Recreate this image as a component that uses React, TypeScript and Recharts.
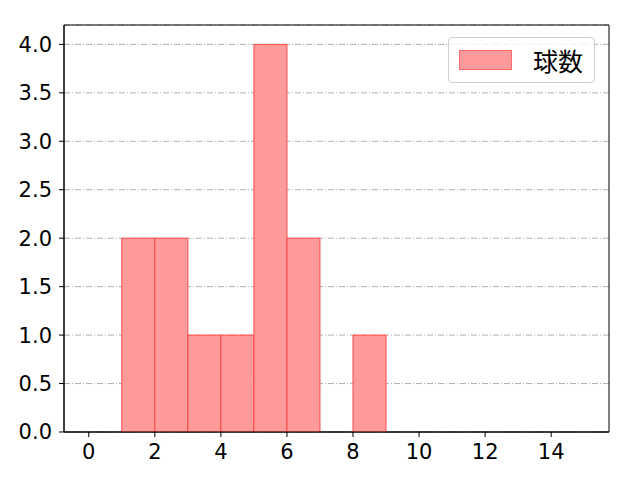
import React from 'react';
import { ComposedChart, Bar, XAxis, YAxis, CartesianGrid, Legend, ReferenceArea } from 'recharts';

const binCenters = [0.5, 1.5, 2.5, 3.5, 4.5, 5.5, 6.5, 7.5, 8.5, 9.5, 10.5, 11.5, 12.5, 13.5, 14.5];
const counts = [0, 2, 2, 1, 1, 4, 2, 0, 1, 0, 0, 0, 0, 0, 0];
const xTicks = [0, 2, 4, 6, 8, 10, 12, 14];
const yTicks = [0, 0.5, 1, 1.5, 2, 2.5, 3, 3.5, 4];
const xDomain: [number, number] = [-0.75, 15.75];
const yDomain: [number, number] = [0, 4.2];
const seriesName = '球数';

const data = binCenters.map((x, i) => ({ x, count: counts[i] }));

const TICK_FONT = '"DejaVu Sans", sans-serif';
const CJK_FONT = '"Noto Sans CJK JP", "DejaVu Sans", sans-serif';

const renderLegend = () => (
  <div
    style={{
      position: 'absolute',
      left: 448,
      top: 37,
      width: 147,
      height: 46,
      boxSizing: 'border-box',
      border: '1px solid #d0d0d0',
      borderRadius: 4,
      background: 'rgba(255,255,255,0.8)',
      display: 'flex',
      alignItems: 'center',
      fontFamily: CJK_FONT,
      fontSize: 25,
      color: '#000',
    }}
  >
    <span
      style={{
        display: 'inline-block',
        marginLeft: 10,
        width: 53,
        height: 20,
        background: '#ff9a9a',
        border: '1px solid #ff6a6a',
        boxSizing: 'border-box',
      }}
    />
    <span style={{ marginLeft: 21, lineHeight: '25px' }}>{seriesName}</span>
  </div>
);

export default function App() {
  return (
    <div style={{ position: 'absolute', left: 0, top: 0, width: 640, height: 480, background: '#fff' }}>
      <ComposedChart
        width={640}
        height={480}
        data={data}
        margin={{ top: 25, right: 31, bottom: 0, left: 0 }}
        barCategoryGap={0}
        barGap={0}
      >
        <CartesianGrid
          horizontal
          vertical={false}
          stroke="#b0b0b0"
          strokeDasharray="6 2 1 2"
          strokeWidth={1}
        />
        <XAxis
          dataKey="x"
          type="number"
          domain={xDomain}
          ticks={xTicks}
          allowDataOverflow
          height={48}
          stroke="#000"
          tickLine={{ stroke: '#000' }}
          tickSize={5}
          tick={{ fill: '#000', fontSize: 21, fontFamily: TICK_FONT }}
          tickMargin={7}
        />
        <YAxis
          type="number"
          domain={yDomain}
          ticks={yTicks}
          allowDataOverflow
          width={64}
          stroke="#000"
          tickSize={5}
          tickLine={{ stroke: '#000' }}
          tick={{ fill: '#000', fontSize: 21, fontFamily: TICK_FONT }}
          tickFormatter={(v: number) => v.toFixed(1)}
          tickMargin={7}
        />
        <Legend content={renderLegend} wrapperStyle={{ position: 'absolute', left: 0, top: 0, width: 0, height: 0 }} />
        <Bar
          dataKey="count"
          name={seriesName}
          fill="#ff9a9a"
          stroke="#ff4848"
          strokeWidth={1}
          isAnimationActive={false}
        />
        <ReferenceArea
          x1={xDomain[0]}
          x2={xDomain[1]}
          y1={yDomain[0]}
          y2={yDomain[1]}
          fill="none"
          fillOpacity={0}
          stroke="#000"
          strokeWidth={1}
          ifOverflow="visible"
        />
      </ComposedChart>
    </div>
  );
}
